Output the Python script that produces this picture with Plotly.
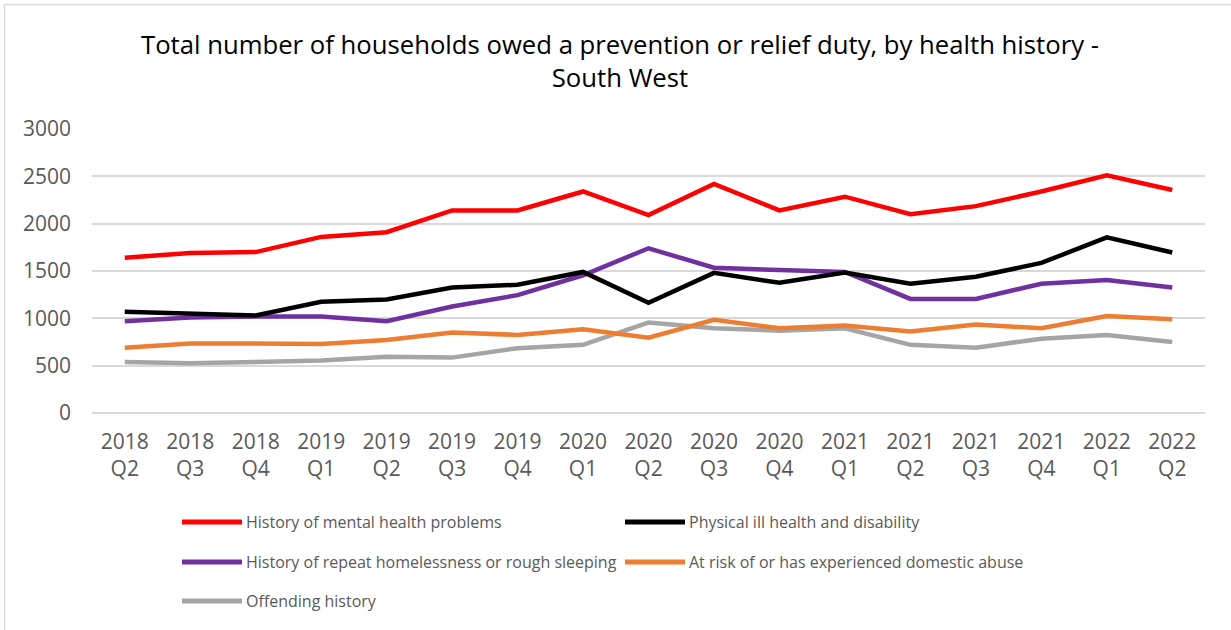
import plotly.graph_objects as go

# Quarterly categories
years = ["2018", "2018", "2018", "2019", "2019", "2019", "2019", "2020", "2020",
         "2020", "2020", "2021", "2021", "2021", "2021", "2022", "2022"]
quarters = ["Q2", "Q3", "Q4", "Q1", "Q2", "Q3", "Q4", "Q1", "Q2",
            "Q3", "Q4", "Q1", "Q2", "Q3", "Q4", "Q1", "Q2"]
categories = [f"{y}<br>{q}" for y, q in zip(years, quarters)]

# Households owed a duty, by health history
mental_health = [1640, 1690, 1700, 1860, 1910, 2140, 2140, 2340, 2090,
                 2420, 2140, 2285, 2100, 2185, 2340, 2510, 2355]
physical_ill_health = [1070, 1045, 1030, 1175, 1200, 1325, 1355, 1490, 1165,
                       1480, 1375, 1485, 1365, 1440, 1585, 1855, 1695]
repeat_homelessness = [970, 1010, 1020, 1020, 970, 1125, 1245, 1455, 1740,
                       1535, 1510, 1490, 1205, 1205, 1365, 1405, 1325]
domestic_abuse = [690, 735, 735, 730, 770, 850, 825, 885, 795,
                  985, 895, 925, 860, 935, 895, 1025, 990]
offending_history = [540, 525, 540, 555, 595, 585, 685, 720, 955,
                     895, 870, 895, 720, 690, 785, 825, 750]

series_names = [
    "History of mental health problems",
    "Physical ill health and disability",
    "History of repeat homelessness or rough sleeping",
    "At risk of or has experienced domestic abuse",
    "Offending history",
]
series_values = [mental_health, physical_ill_health, repeat_homelessness,
                 domestic_abuse, offending_history]
series_colors = ["#FF0000", "#000000", "#7030A0", "#ED7D31", "#A5A5A5"]

W, H = 1231, 630
ML, MR, MT, MB = 92, 26, 129, 217
PW, PH = W - ML - MR, H - MT - MB

FONT = "Open Sans"
TEXT_GREY = "#595959"

fig = go.Figure()

# Draw series in reverse so the first series sits on top
for name, vals, col in reversed(list(zip(series_names, series_values, series_colors))):
    fig.add_trace(go.Scatter(
        x=categories, y=vals, name=name, mode="lines",
        line=dict(color=col, width=4.5), showlegend=False,
    ))


def px_x(px):
    return (px - ML) / PW


def px_y(py):
    return (H - MB - py) / PH


shapes = []
annotations = []

# Legend: two columns, three rows
legend_slots = [(182, 522), (625, 522), (182, 562), (625, 562), (182, 601)]
for (lx, ly), name, col in zip(legend_slots, series_names, series_colors):
    shapes.append(dict(
        type="line", xref="paper", yref="paper",
        x0=px_x(lx), x1=px_x(lx + 60), y0=px_y(ly), y1=px_y(ly),
        line=dict(color=col, width=5),
    ))
    annotations.append(dict(
        xref="paper", yref="paper", x=px_x(lx + 62), y=px_y(ly),
        xanchor="left", yanchor="middle", showarrow=False,
        text=name, font=dict(family=FONT, size=16, color=TEXT_GREY),
    ))

# Outer chart frame
shapes.append(dict(
    type="rect", xref="paper", yref="paper", layer="below",
    x0=px_x(4.5), x1=px_x(W + 20), y0=px_y(4.5), y1=px_y(H + 20),
    line=dict(color="#D9D9D9", width=1.5), fillcolor="rgba(0,0,0,0)",
))

fig.update_layout(
    width=W, height=H,
    margin=dict(l=ML, r=MR, t=MT, b=MB),
    paper_bgcolor="white", plot_bgcolor="white",
    title=dict(
        text="Total number of households owed a prevention or relief duty, by health history -<br>South West",
        x=620 / W, xanchor="center", xref="container",
        y=1 - 54 / H, yanchor="middle", yref="container",
        font=dict(family=FONT, size=25.7, color="#000000"),
    ),
    xaxis=dict(
        type="category", range=[-0.5, len(categories) - 0.5],
        showgrid=False, showline=False, zeroline=False, ticks="",
        tickfont=dict(family=FONT, size=21, color=TEXT_GREY),
        ticklabelstandoff=14,
    ),
    yaxis=dict(
        range=[0, 3000], dtick=500, tick0=0,
        showgrid=True, gridcolor="#D9D9D9", gridwidth=1.5,
        zeroline=True, zerolinecolor="#D9D9D9", zerolinewidth=1.5,
        showline=False, ticks="",
        tickfont=dict(family=FONT, size=21, color=TEXT_GREY),
        ticklabelstandoff=20,
    ),
    shapes=shapes,
    annotations=annotations,
    showlegend=False,
)

fig.write_html("out.html")
